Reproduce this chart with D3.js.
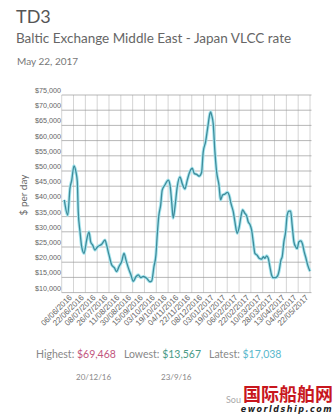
<!DOCTYPE html>
<html>
<head>
<meta charset="utf-8">
<script src="https://cdn.jsdelivr.net/npm/d3@7"></script>
<style>
  body { margin: 0; background: #fff; }
  svg { display: block; }
</style>
</head>
<body>
<div id="plot"></div>
<script>
// tick labels (one per vertical gridline)
var dateLabels = ["06/06/2016", "22/06/2016", "08/07/2016", "26/07/2016", "11/08/2016", "30/08/2016",
  "15/09/2016", "03/10/2016", "19/10/2016", "04/11/2016", "22/11/2016", "08/12/2016", "03/01/2017",
  "19/01/2017", "06/02/2017", "22/02/2017", "10/03/2017", "28/03/2017", "13/04/2017", "04/05/2017", "22/05/2017"];

// position of each point, in label steps (0 = 06/06/2016)
var pos = [-0.78, -0.49, -0.30, -0.15, 0.04, 0.21, 0.32, 0.40, 0.55, 0.69, 0.89, 1.11, 1.31, 1.45, 1.62, 1.81,
  2.04, 2.38, 2.66, 2.80, 3.00, 3.23, 3.45, 3.65, 3.84, 4.07, 4.27, 4.44, 4.63, 4.86, 5.05, 5.28, 5.48, 5.70,
  5.90, 6.19, 6.46, 6.61, 6.80, 6.97, 7.08, 7.22, 7.37, 7.50, 7.73, 8.01, 8.16, 8.30, 8.43, 8.58, 8.77, 9.00,
  9.19, 9.42, 9.62, 9.84, 10.04, 10.21, 10.41, 10.63, 10.83, 10.97, 11.17, 11.34, 11.54, 11.60, 11.68, 11.81,
  11.96, 12.10, 12.30, 12.44, 12.61, 12.80, 13.02, 13.18, 13.31, 13.51, 13.65, 13.84, 13.99, 14.16, 14.30,
  14.49, 14.64, 14.77, 14.92, 15.06, 15.20, 15.34, 15.53, 15.70, 15.91, 16.04, 16.19, 16.33, 16.47, 16.61,
  16.75, 16.89, 17.09, 17.26, 17.40, 17.54, 17.65, 17.79, 17.94, 18.07, 18.22, 18.36, 18.49, 18.64, 18.78,
  18.92, 19.06, 19.23, 19.37, 19.51, 19.66, 19.80, 20.00];

// TD3 rate, $ per day
var rate = [40500, 35500, 44300, 47000, 51700, 49600, 46500, 36600, 30000, 25100, 22900, 27300, 30000, 26700,
  25600, 24000, 25100, 25900, 27300, 25600, 22400, 19100, 18200, 16900, 18500, 20200, 22900, 20700, 18200,
  15800, 13700, 15200, 15800, 14900, 15300, 14700, 13567, 13800, 18500, 22400, 29000, 35500, 38800, 43700,
  45400, 47000, 45400, 39900, 34500, 38200, 44800, 48100, 45900, 44100, 47000, 49800, 50900, 49200, 48900,
  48300, 49500, 56300, 59600, 64000, 69000, 69468, 68400, 65700, 56300, 49800, 45400, 40500, 42100, 42400,
  43000, 41800, 39400, 36600, 33300, 29500, 31100, 35000, 37200, 36100, 35300, 33300, 32400, 30600, 26700,
  22900, 22300, 21300, 21000, 21800, 21300, 22100, 21300, 18500, 15800, 14900, 14900, 15500, 17400, 20700,
  21800, 26700, 30000, 35500, 36800, 36800, 32200, 26700, 25100, 24500, 26700, 27000, 25900, 23400, 21300,
  19100, 17038];

var yTicks = [10000, 15000, 20000, 25000, 30000, 35000, 40000, 45000, 50000, 55000, 60000, 65000, 70000, 75000];

var width = 336, height = 415;

var svg = d3.select("#plot")
  .append("svg")
  .attr("width", width)
  .attr("height", height)
  .style("font-family", "Lato, 'Open Sans', sans-serif");

var x = d3.scaleLinear().domain([-1, 20]).range([61.7, 310]);
var y = d3.scaleLinear().domain([10000, 75000]).range([292.6, 95]);

// header
svg.append("text").attr("x", 16).attr("y", 23)
  .style("font-size", "18px").attr("fill", "#555").text("TD3");
svg.append("text").attr("x", 16).attr("y", 43)
  .style("font-size", "13.5px").attr("fill", "#666")
  .text("Baltic Exchange Middle East - Japan VLCC rate");
svg.append("text").attr("x", 17).attr("y", 65)
  .style("font-size", "10px").attr("fill", "#777").text("May 22, 2017");

// grid
var vLines = d3.range(-1, 21);
svg.append("g").selectAll("line").data(vLines).join("line")
  .attr("x1", d => x(d)).attr("x2", d => x(d))
  .attr("y1", y(75000)).attr("y2", y(10000))
  .attr("stroke", "#c9c9c9").attr("stroke-width", 0.8);

svg.append("g").selectAll("line").data(yTicks).join("line")
  .attr("x1", x(-1)).attr("x2", x(20) + 1.5)
  .attr("y1", d => y(d)).attr("y2", d => y(d))
  .attr("stroke", "#9a9a9a").attr("stroke-width", 0.7);

// y labels sit just above their gridline
svg.append("g").selectAll("text").data(yTicks).join("text")
  .attr("x", 61).attr("y", d => y(d) - 2)
  .attr("text-anchor", "end")
  .style("font-family", "'Liberation Sans', sans-serif")
  .style("font-size", "7.2px").attr("fill", "#666")
  .text(d => "$" + d3.format(",")(d));

svg.append("text")
  .attr("transform", "translate(27,195) rotate(-90)")
  .attr("text-anchor", "middle")
  .style("font-size", "10px").attr("fill", "#666")
  .text("$ per day");

// x labels
svg.append("g").selectAll("text").data(dateLabels).join("text")
  .attr("transform", (d, i) => `translate(${x(i) - 1},298) rotate(-45)`)
  .attr("text-anchor", "end")
  .style("font-family", "'Liberation Sans', sans-serif")
  .style("font-size", "8px").attr("fill", "#666")
  .text(d => d);

// the rate line
var points = pos.map((p, i) => [p, rate[i]]);
var line = d3.line().x(d => x(d[0])).y(d => y(d[1])).curve(d3.curveMonotoneX);

svg.append("path").datum(points)
  .attr("d", line).attr("fill", "none")
  .attr("stroke", "#a8e6ef").attr("stroke-width", 3.2)
  .attr("stroke-linejoin", "round");
svg.append("path").datum(points)
  .attr("d", line).attr("fill", "none")
  .attr("stroke", "#3f8c9b").attr("stroke-width", 1.3)
  .attr("stroke-linejoin", "round");

// summary line
var summary = svg.append("text").attr("x", 36).attr("y", 358)
  .style("font-size", "10.5px");
summary.append("tspan").attr("fill", "#888").text("Highest: ");
summary.append("tspan").attr("fill", "#c2567e").text("$69,468");
summary.append("tspan").attr("fill", "#888").attr("dx", 8).text("Lowest: ");
summary.append("tspan").attr("fill", "#4a9a86").text("$13,567");
summary.append("tspan").attr("fill", "#888").attr("dx", 8).text("Latest: ");
summary.append("tspan").attr("fill", "#5ab8cc").text("$17,038");

svg.append("text").attr("x", 76).attr("y", 380)
  .style("font-size", "8px").attr("fill", "#888").text("20/12/16");
svg.append("text").attr("x", 161).attr("y", 380)
  .style("font-size", "8px").attr("fill", "#888").text("23/9/16");

// source + watermark
svg.append("text").attr("x", 226).attr("y", 403)
  .style("font-size", "9px").attr("fill", "#aaa").text("Sou");
svg.append("text").attr("x", 333).attr("y", 401)
  .attr("text-anchor", "end")
  .style("font-family", "'Noto Sans CJK SC', sans-serif")
  .style("font-size", "18px").style("font-weight", "bold")
  .attr("fill", "#c8161d").text("国际船舶网");
svg.append("text").attr("x", 333).attr("y", 412)
  .attr("text-anchor", "end")
  .style("font-family", "'DejaVu Sans', sans-serif")
  .style("font-size", "8px").style("font-style", "italic").style("font-weight", "bold")
  .attr("letter-spacing", "1.5px")
  .attr("fill", "#222").text("eworldship.com");
</script>
</body>
</html>
